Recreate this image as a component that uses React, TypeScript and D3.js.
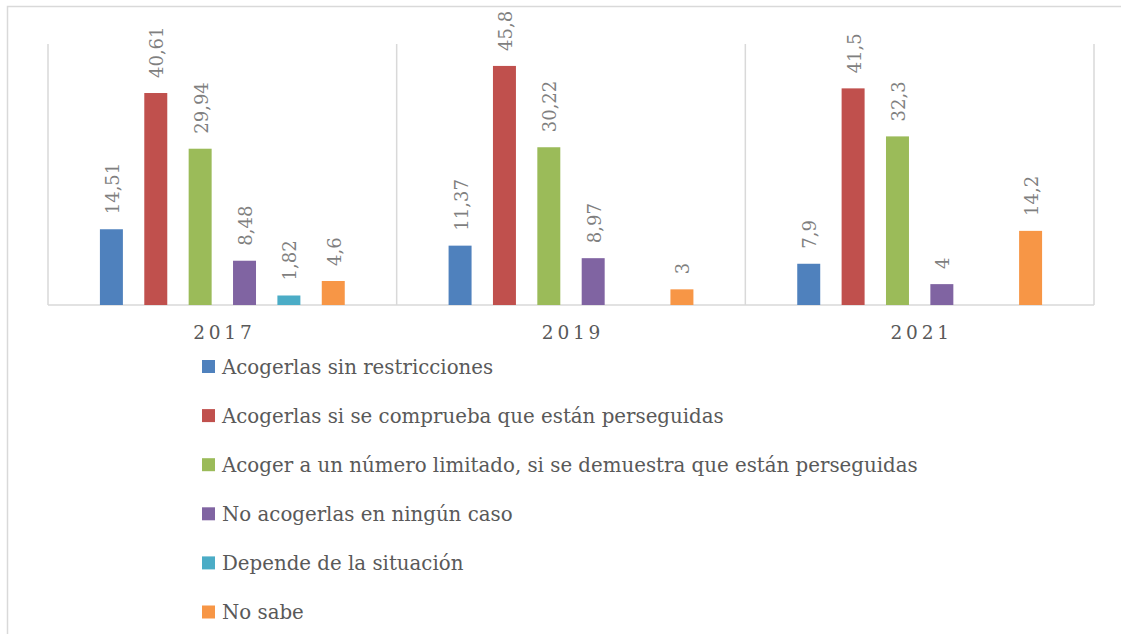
import React from "react";
import * as d3 from "d3";

const years = ["2017", "2019", "2021"];
const seriesNames = [
  "Acogerlas sin restricciones",
  "Acogerlas si se comprueba que están perseguidas",
  "Acoger a un número limitado, si se demuestra que están perseguidas",
  "No acogerlas en ningún caso",
  "Depende de la situación",
  "No sabe",
];
const seriesColors = ["#4F81BD", "#C0504D", "#9BBB59", "#8064A2", "#4BACC6", "#F79646"];
// values per series, aligned with years
const sinRestricciones = [14.51, 11.37, 7.9];
const siPerseguidas = [40.61, 45.8, 41.5];
const numeroLimitado = [29.94, 30.22, 32.3];
const ningunCaso = [8.48, 8.97, 4];
const dependeSituacion: (number | null)[] = [1.82, null, null];
const noSabe = [4.6, 3, 14.2];
const seriesValues: (number | null)[][] = [
  sinRestricciones,
  siPerseguidas,
  numeroLimitado,
  ningunCaso,
  dependeSituacion,
  noSabe,
];
const labelTexts: (string | null)[][] = [
  ["14,51", "11,37", "7,9"],
  ["40,61", "45,8", "41,5"],
  ["29,94", "30,22", "32,3"],
  ["8,48", "8,97", "4"],
  ["1,82", null, null],
  ["4,6", "3", "14,2"],
];

const W = 1121;
const H = 634;
const FONT = "'DejaVu Serif', serif";

export default function App() {
  const x0 = d3.scaleBand<string>().domain(years).range([48, 1094]).padding(0);
  const x1 = d3
    .scaleBand<number>()
    .domain(d3.range(seriesNames.length))
    .range([0, x0.bandwidth()])
    .paddingInner(0.482)
    .paddingOuter(1.17);
  const y = d3.scaleLinear().domain([0, 50]).range([305, 44]);
  const grid = "#d9d9d9";
  const legendY = (i: number) => 366 + i * 49.1;

  return (
    <svg
      width={W}
      height={H}
      style={{ position: "absolute", left: 0, top: 0, background: "#fff" }}
    >
      <rect x={7.5} y={6.5} width={1130} height={660} fill="#fff" stroke={grid} strokeWidth={1.5} />
      {/* category separators */}
      {[...years.map((yr) => x0(yr)!), 1094].map((xv, i) => (
        <line key={i} x1={xv} x2={xv} y1={y(50)} y2={y(0)} stroke={grid} strokeWidth={1.5} />
      ))}
      <line x1={48} x2={1094} y1={y(0)} y2={y(0)} stroke={grid} strokeWidth={1.5} />
      {seriesValues.map((vals, si) =>
        vals.map((v, yi) => {
          if (v == null) return null;
          const bx = x0(years[yi])! + x1(si)!;
          const bw = x1.bandwidth();
          const by = y(v);
          const lbl = labelTexts[si][yi];
          const cx = bx + bw / 2;
          return (
            <g key={`${si}-${yi}`}>
              <rect x={bx} y={by} width={bw} height={y(0) - by} fill={seriesColors[si]} />
              {lbl && (
                <text
                  transform={`translate(${cx + 1},${by - 15}) rotate(-90)`}
                  textAnchor="start"
                  dominantBaseline="central"
                  fontFamily={FONT}
                  fontSize={18}
                  fill="#7f7f7f"
                >
                  {lbl}
                </text>
              )}
            </g>
          );
        })
      )}
      {years.map((yr) => (
        <text
          key={yr}
          x={x0(yr)! + x0.bandwidth() / 2 + 2}
          y={339}
          textAnchor="middle"
          fontFamily={FONT}
          fontSize={18.5}
          letterSpacing={3.8}
          fill="#595959"
        >
          {yr}
        </text>
      ))}
      {seriesNames.map((name, i) => (
        <g key={name}>
          <rect x={202} y={legendY(i) - 6} width={13} height={13} fill={seriesColors[i]} />
          <text x={222} y={legendY(i) + 7.5} fontFamily={FONT} fontSize={19.8} fill="#595959">
            {name}
          </text>
        </g>
      ))}
    </svg>
  );
}
